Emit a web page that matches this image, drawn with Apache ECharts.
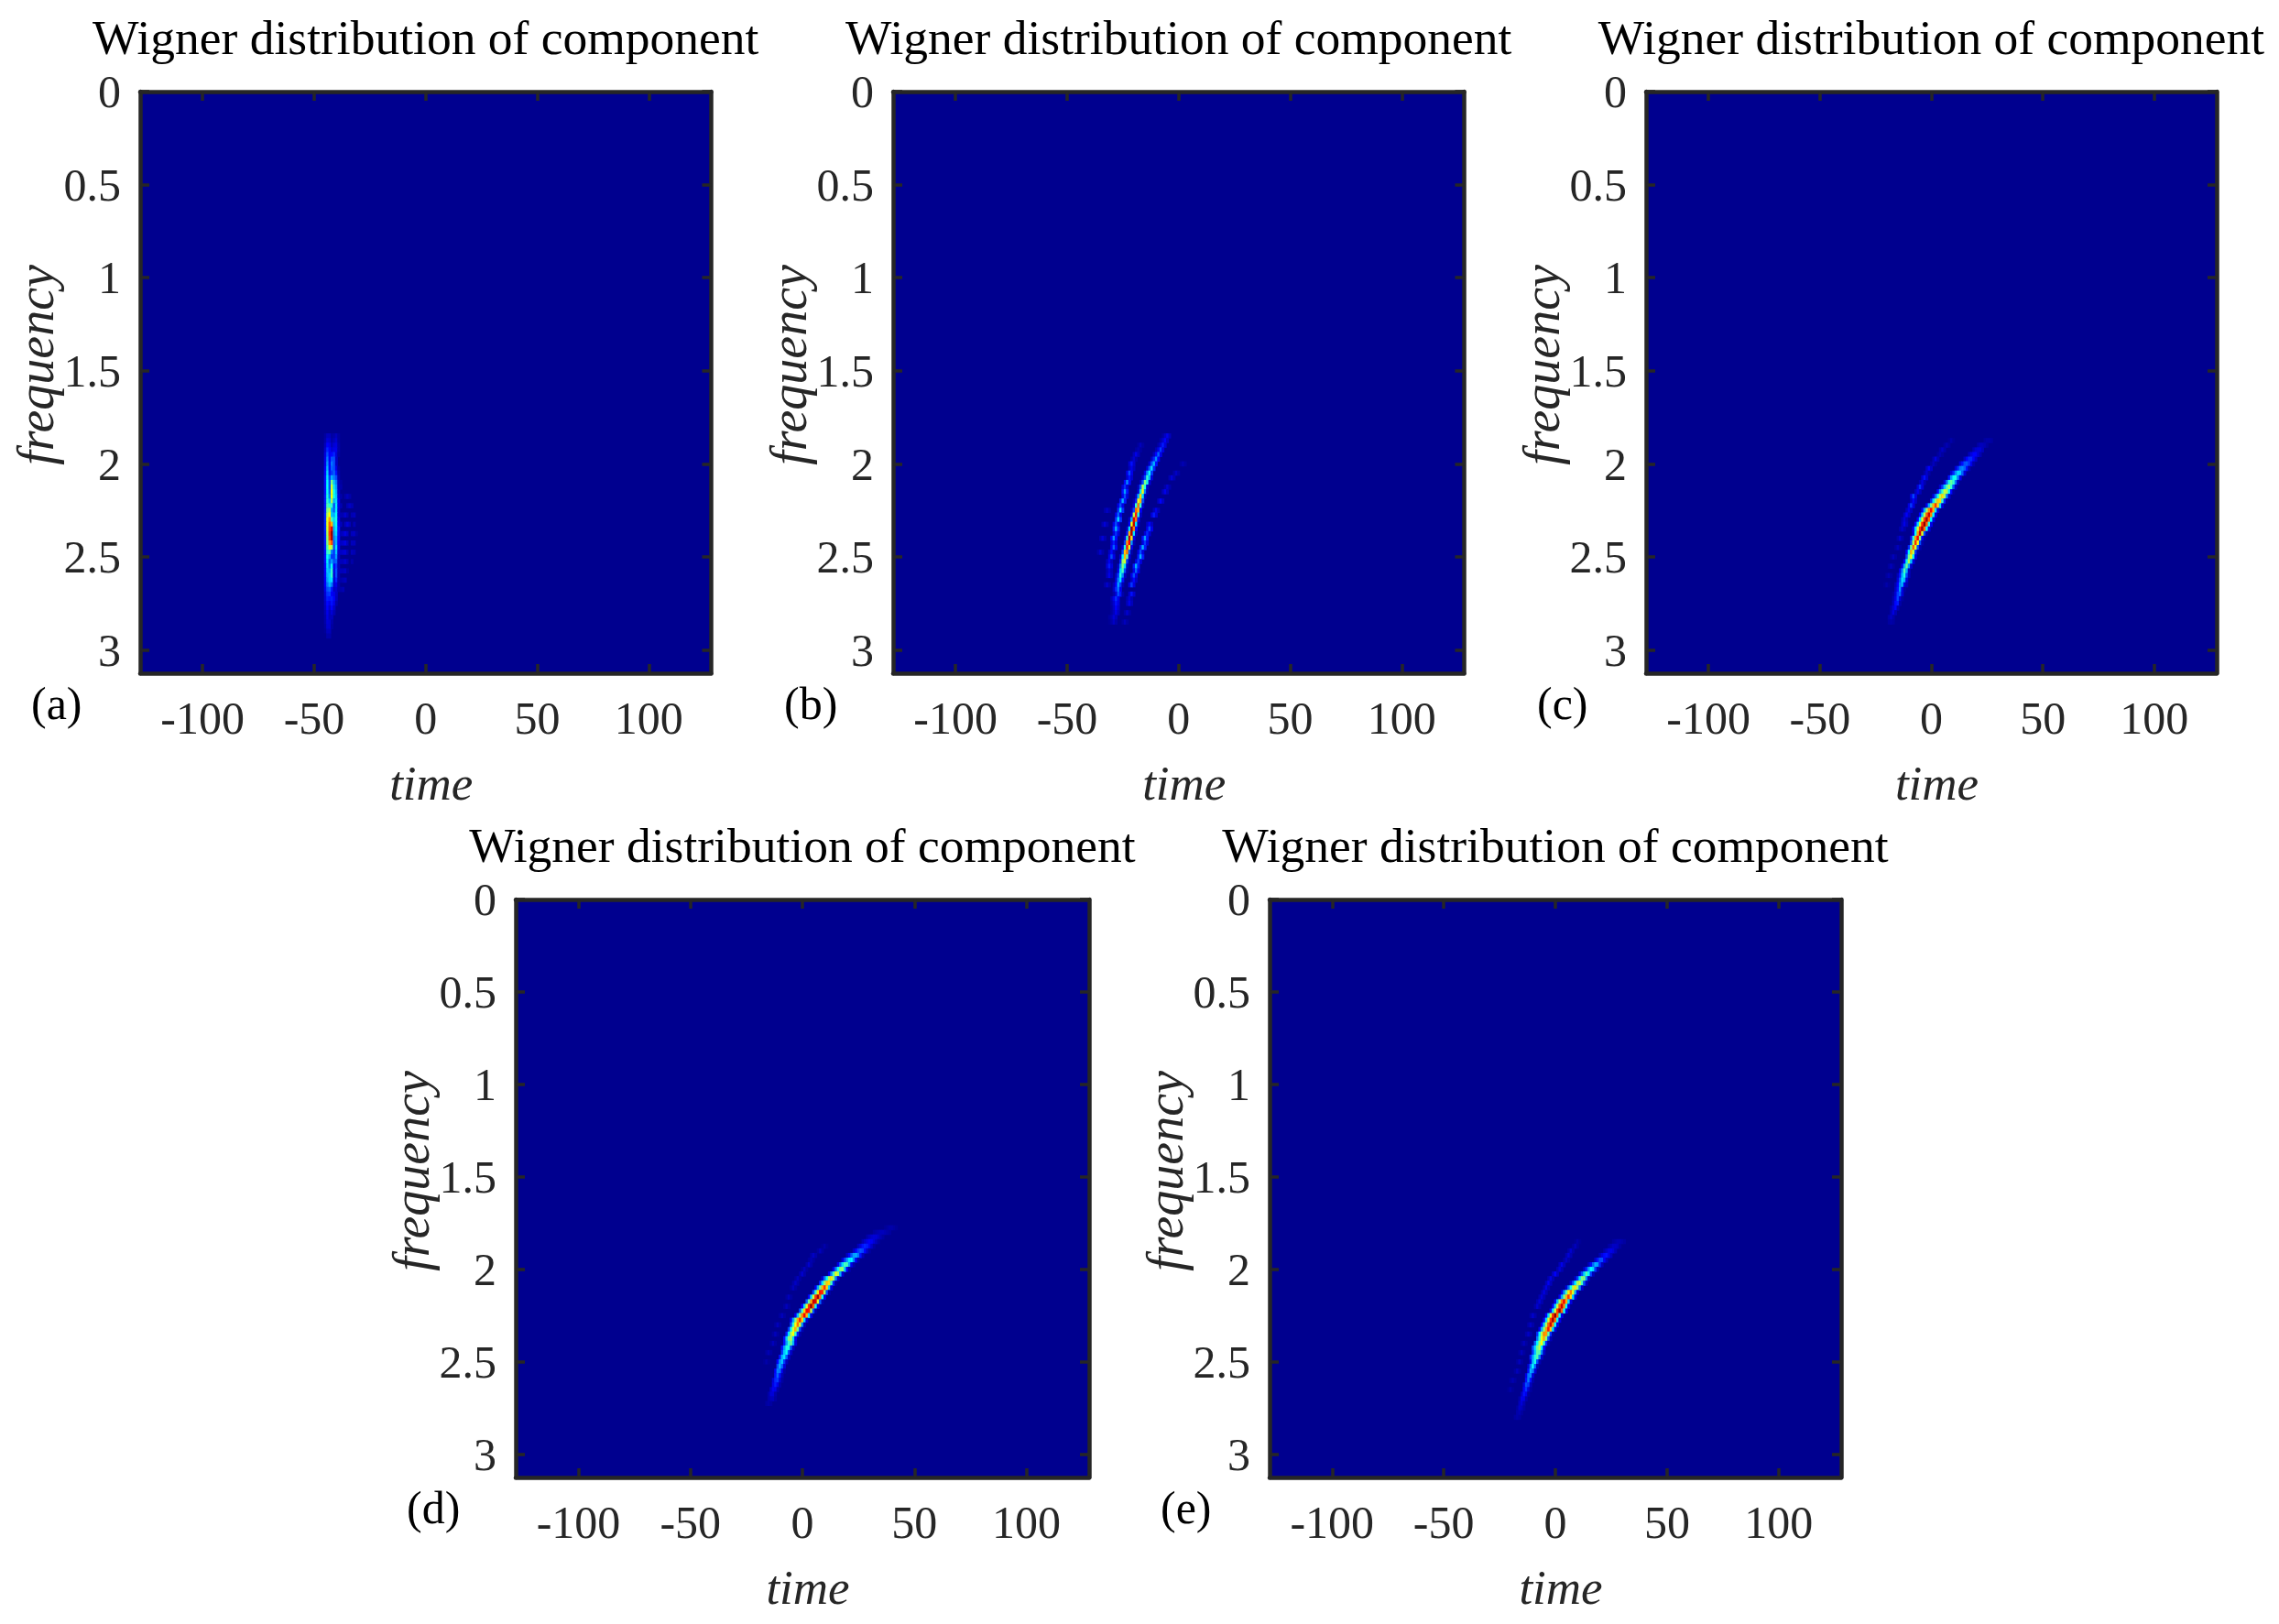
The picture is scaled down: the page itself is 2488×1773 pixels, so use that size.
<!DOCTYPE html>
<html>
<head>
<meta charset="utf-8">
<style>html,body{margin:0;padding:0;background:#fff}#main{width:2488px;height:1773px}</style>
<script src="https://cdn.jsdelivr.net/npm/echarts@6/dist/echarts.min.js"></script>
</head>
<body>
<div id="main"></div>
<script>
var timeTicks = [-100, -50, 0, 50, 100];
var freqTicks = [0, 0.5, 1, 1.5, 2, 2.5, 3];
var freqStep = 0.025;
var jet = ['#00008f', '#0000ff', '#007fff', '#00ffff', '#7fff7f', '#ffff00', '#ff7f00', '#ff0000', '#7f0000'];

// every row: frequency, first time cell, then the cell values
var aMain = [
[1.85,-46,0,.02,.05,.05,.02,.03,.05,.02],[1.875,-46,0,.03,.08,.07,.03,.05,.07,.02],[1.9,-46,0,.05,.12,.1,.05,.08,.09,.03],
[1.925,-46,0,.07,.16,.12,.08,.1,.1,.03],[1.95,-46,0,.09,.2,.12,.13,.16,.08,.02],[1.975,-46,0,.1,.24,.12,.2,.2,.06],
[2,-46,0,.1,.27,.13,.24,.2,.06],[2.025,-46,0,.12,.3,.13,.22,.2,.1,.02],[2.05,-46,0,.13,.33,.14,.18,.22,.14,.03],
[2.075,-46,0,.14,.35,.18,.3,.25,.2,.04],[2.1,-46,0,.14,.37,.2,.5,.32,.25,.05,.02],[2.125,-46,0,.14,.38,.2,.58,.35,.28,.05,.03],
[2.15,-46,0,.14,.38,.22,.62,.38,.3,.06],[2.175,-46,0,.15,.4,.25,.62,.38,.32,.08,.03],[2.2,-46,0,.15,.42,.32,.55,.3,.34,.1],
[2.225,-46,0,.15,.45,.42,.42,.2,.36,.1,.04],[2.25,-46,0,.15,.5,.55,.3,.22,.36,.08],[2.275,-46,0,.16,.55,.62,.32,.3,.38,.08,.04],
[2.3,-46,0,.16,.6,.72,.45,.34,.4,.1],[2.325,-46,0,.16,.6,.78,.7,.32,.38,.12,.05],[2.35,-46,0,.16,.58,.8,.9,.3,.36,.14],
[2.375,-46,0,.15,.55,.82,.97,.28,.34,.14,.05],[2.4,-46,0,.15,.52,.8,.95,.25,.3,.13],[2.425,-46,0,.15,.5,.72,.8,.22,.3,.12,.06],
[2.45,-46,0,.15,.45,.6,.55,.2,.35,.1],[2.475,-46,0,.14,.42,.45,.25,.18,.32,.08,.06],[2.5,-46,0,.14,.38,.3,.18,.18,.28,.06],
[2.525,-46,0,.14,.36,.22,.28,.2,.22,.05,.05],[2.55,-46,0,.13,.34,.25,.38,.12,.18,.05],[2.575,-46,0,.13,.32,.3,.42,.1,.2,.05,.05],
[2.6,-46,0,.13,.3,.33,.42,.08,.2,.04],[2.625,-46,0,.12,.28,.33,.35,.08,.16,.04,.03],[2.65,-46,0,.12,.24,.3,.25,.08,.1,.03],
[2.675,-46,0,.1,.2,.22,.15,.06,.07,.03],[2.7,-46,0,.08,.17,.18,.12,.1,.06],[2.725,-46,0,.07,.15,.14,.15,.12,.05],
[2.75,-46,0,.06,.13,.1,.14,.1,.03],[2.775,-46,0,.05,.12,.07,.12,.06],[2.8,-46,0,.04,.1,.05,.08,.04],
[2.825,-46,0,.03,.09,.05,.05],[2.85,-46,0,.03,.08,.07,.03],[2.875,-46,0,.02,.07,.07,.02],[2.9,-46,0,.01,.05,.05],[2.925,-46,0,0,.03,.03]
];
var aSpots = [
[2.175,-36,.03,.05,.03],[2.225,-35,.04,.06,.04],[2.275,-37,.04,.07,.04,0,.04,.05],[2.325,-36,.05,.08,.05,0,.04],
[2.375,-37,.06,.09,.06,0,.05,.06,.02],[2.425,-37,.07,.09,.05,0,.05,.05],[2.475,-37,.07,.08,.04,0,.05,.04],
[2.525,-37,.05,.07,.04,0,.03],[2.575,-37,.05,.06,.02],[2.625,-37,.04,.05],[2.675,-38,.03,.04]
];

var bMain = [
[1.85,-7,.02,.06,.1,.05],[1.875,-8,.03,.07,.12,.06],[1.9,-9,.03,.08,.15,.08],[1.925,-10,.04,.1,.18,.09],[1.95,-11,.05,.13,.22,.1],
[1.975,-12,.06,.16,.26,.12],[2,-13,.07,.2,.3,.14],[2.025,-14,.08,.22,.34,.16],[2.05,-15,.1,.26,.38,.18],[2.075,-16,.06,.2,.42,.3,.08],
[2.1,-17,.05,.2,.5,.4,.08],[2.125,-18,.05,.22,.55,.4,.07],[2.15,-18,.08,.35,.62,.25,.04],[2.175,-19,.06,.3,.67,.35,.05],
[2.2,-20,.04,.15,.6,.7,.2],[2.225,-20,.08,.42,.76,.42,.07],[2.25,-21,.05,.2,.78,.68,.12],[2.275,-21,.1,.55,.85,.4,.06],
[2.3,-22,.06,.3,.9,.75,.14],[2.325,-22,.12,.62,.94,.35,.05],[2.35,-23,.06,.35,.97,.75,.13],[2.375,-23,.15,.7,.95,.35,.05],
[2.4,-24,.08,.42,.93,.65,.1],[2.425,-24,.18,.72,.88,.28,.04],[2.45,-25,.08,.4,.85,.6,.1],[2.475,-25,.2,.68,.75,.22,.03],
[2.5,-26,.08,.36,.7,.48,.08],[2.525,-26,.16,.52,.58,.18,.03],[2.55,-27,.06,.26,.5,.34,.06],[2.575,-27,.1,.34,.44,.2,.03],
[2.6,-28,.05,.18,.4,.26,.05],[2.625,-28,.08,.24,.34,.14],[2.65,-29,.04,.12,.28,.18,.04],[2.675,-29,.06,.16,.24,.1],
[2.7,-29,.03,.08,.2,.14,.03],[2.725,-30,.04,.1,.17,.1],[2.75,-30,.03,.07,.14,.09],[2.775,-30,.02,.06,.12,.07],
[2.8,-30,.02,.05,.1,.05],[2.825,-31,.02,.04,.08,.05],[2.85,-31,.01,.03,.06,.03]
];
var bLeft = [
[1.9,-18,.02,.05,.02],[1.925,-19,.02,.04,.02],[1.95,-20,.05,.1,.05],[1.975,-21,.03,.07,.03],[2,-22,.07,.14,.07],[2.025,-22,.05,.1,.05],
[2.05,-23,.1,.2,.1],[2.075,-23,.07,.14,.07],[2.1,-24,.13,.26,.13],[2.125,-25,.08,.17,.08],[2.15,-25,.14,.28,.14],[2.175,-25,.1,.2,.08],
[2.2,-26,.15,.3,.15],[2.225,-27,.1,.2,.1],[2.25,-27,.17,.34,.17],[2.275,-28,.1,.22,.1],[2.3,-28,.17,.34,.17],[2.325,-29,.1,.2,.1],
[2.35,-29,.15,.3,.15],[2.375,-29,.08,.17,.08],[2.4,-30,.13,.27,.13],[2.425,-30,.08,.15,.08],[2.45,-30,.11,.22,.11],[2.475,-31,.06,.13,.06],
[2.5,-31,.1,.2,.1],[2.525,-32,.05,.11,.05],[2.55,-32,.08,.15,.08],[2.575,-32,.04,.08,.04],[2.6,-32,.05,.1,.05],[2.65,-33,.03,.07,.03],
[2.25,-33,.03,.06,.03],[2.325,-34,.04,.08,.04],[2.4,-35,.04,.08,.04],[2.475,-36,.03,.07,.03]
];
var bRight = [
[2,1,.02,.04,.02],[2.05,-2,.03,.06,.03],[2.075,-4,.04,.08,.04],[2.125,-6,.03,.07,.03],[2.15,-7,.05,.1,.05],[2.2,-9,.06,.12,.06],
[2.25,-11,.05,.1,.05],[2.275,-12,.08,.15,.08],[2.325,-14,.06,.12,.06],[2.35,-14,.1,.2,.1],[2.375,-15,.08,.16,.08],[2.4,-16,.14,.28,.14],
[2.425,-16,.09,.18,.09],[2.45,-17,.15,.3,.15],[2.475,-18,.09,.2,.09],[2.5,-18,.15,.3,.15],[2.525,-19,.09,.18,.09],[2.55,-20,.15,.3,.15],
[2.575,-20,.1,.22,.1],[2.6,-21,.1,.2,.1],[2.625,-21,.06,.13,.06],[2.65,-22,.09,.18,.09],[2.7,-22,.07,.14,.07],[2.725,-23,.04,.08,.04],
[2.75,-23,.05,.1,.05],[2.8,-24,.03,.07,.03],[2.85,-25,.02,.05,.02]
];

var cMain = [
[1.875,24,.02,.03,.03,.02],[1.9,21,.03,.05,.05,.04,.02],[1.925,19,.04,.07,.08,.08,.05],[1.95,17,.05,.09,.12,.12,.08,.04],
[1.975,15,.06,.12,.16,.16,.12,.06],[2,13,.08,.14,.2,.21,.17,.1,.03],[2.025,11,.08,.16,.24,.26,.22,.14,.04],[2.05,9,.08,.16,.26,.34,.32,.22,.08],
[2.075,8,.14,.28,.38,.4,.26,.1],[2.1,6,.08,.22,.4,.47,.42,.24,.06],[2.125,4,.07,.18,.32,.45,.53,.42,.21,.05],[2.15,3,.13,.29,.43,.57,.55,.36,.13,.02],
[2.175,1,.09,.23,.4,.56,.66,.53,.26,.07],[2.2,0,.16,.35,.52,.68,.66,.43,.16,.02],[2.225,-2,.11,.29,.49,.7,.82,.66,.33,.08],[2.25,-4,.11,.3,.52,.74,.87,.7,.35,.09],
[2.275,-5,.12,.32,.55,.78,.92,.74,.37,.09],[2.3,-6,.12,.34,.58,.82,.96,.77,.38,.1],[2.325,-7,.13,.34,.59,.83,.98,.78,.39,.1],[2.35,-8,.12,.34,.58,.82,.96,.77,.38,.1],
[2.375,-8,.1,.38,.72,.92,.6,.2,.03],[2.4,-9,.14,.42,.72,.88,.5,.12,.02],[2.425,-9,.2,.55,.83,.62,.2,.03],[2.45,-10,.16,.48,.78,.6,.2,.03],
[2.475,-11,.12,.38,.7,.56,.18,.03],[2.5,-11,.2,.48,.62,.36,.08],[2.525,-12,.12,.36,.55,.32,.08],[2.55,-13,.1,.3,.48,.28,.06],
[2.575,-14,.1,.25,.45,.3,.06],[2.6,-15,.05,.14,.3,.4,.2,.05],[2.625,-15,.08,.2,.34,.3,.08],[2.65,-16,.04,.12,.25,.3,.1,.04],
[2.675,-16,.06,.14,.27,.1,.02],[2.7,-17,.02,.08,.18,.22,.08],[2.725,-17,.04,.1,.19,.08,.02],[2.75,-17,.05,.13,.15,.03],
[2.775,-18,.03,.08,.12,.04],[2.8,-18,.04,.09,.04],[2.825,-19,.03,.06,.03],[2.85,-19,.02,.03,.02]
];
var cLeft = [
[1.875,8,.01,.03,.01],[1.9,6,.02,.04,.02],[1.925,4,.03,.06,.03],[1.95,3,.02,.04,.02],[1.975,1,.04,.09,.04],[2,0,.02,.05,.02],
[2.025,-2,.06,.12,.06],[2.05,-3,.03,.07,.03],[2.075,-4,.07,.14,.07],[2.1,-5,.04,.09,.04],[2.125,-6,.08,.17,.08],[2.15,-7,.05,.1,.05],
[2.175,-9,.09,.19,.09],[2.2,-9,.06,.12,.06],[2.225,-10,.09,.18,.09],[2.25,-11,.05,.1,.05],[2.275,-12,.06,.12,.06],[2.3,-13,.04,.08,.04],
[2.325,-13,.05,.1,.05],[2.35,-14,.03,.06,.03],[2.4,-15,.03,.07,.03],[2.45,-16,.02,.05,.02],[2.5,-18,.02,.05,.02],[2.55,-19,.02,.05,.02],
[2.6,-20,.02,.04,.02],[2.65,-21,.01,.03,.01]
];

var dMain = [
[1.775,37,.01,.02,.03,.03,.02,.01],[1.8,32,.02,.03,.04,.05,.05,.04,.03,.02],[1.825,29,.03,.05,.07,.08,.08,.06,.04,.02],
[1.85,27,.04,.07,.1,.12,.11,.08,.05,.02],[1.875,25,.05,.09,.14,.16,.15,.11,.06,.02],[1.9,23,.06,.12,.18,.21,.19,.13,.06,.02],
[1.925,20,.06,.13,.21,.28,.3,.24,.14,.05],[1.95,18,.08,.18,.28,.36,.37,.26,.12,.03],[1.975,16,.1,.22,.34,.44,.44,.28,.1,.03],
[2,14,.1,.24,.4,.5,.52,.33,.12,.03],[2.025,12,.1,.26,.44,.6,.54,.3,.08],[2.05,9,.08,.23,.39,.55,.65,.52,.26,.07],
[2.075,8,.16,.35,.52,.68,.66,.43,.16,.02],[2.1,6,.11,.29,.49,.7,.82,.66,.33,.08],[2.125,5,.2,.43,.65,.86,.83,.54,.2,.03],[2.15,3,.12,.34,.58,.82,.96,.77,.38,.1],
[2.175,2,.22,.47,.71,.93,.9,.59,.22,.03],[2.2,0,.13,.34,.59,.83,.98,.78,.39,.1],[2.225,-1,.2,.45,.67,.88,.86,.56,.2,.03],[2.25,-3,.11,.31,.53,.75,.88,.7,.35,.09],
[2.275,-5,.11,.29,.5,.71,.84,.67,.34,.08],[2.3,-5,.2,.42,.62,.76,.58,.26,.05],[2.325,-6,.18,.38,.58,.7,.5,.2,.04],[2.35,-7,.15,.35,.54,.62,.42,.15,.03],
[2.375,-8,.14,.32,.5,.55,.33,.1],[2.4,-8,.14,.28,.42,.48,.3,.08],[2.425,-9,.14,.28,.4,.4,.2,.05],[2.45,-9,.18,.32,.38,.2,.06],
[2.475,-10,.14,.3,.35,.22,.06],[2.5,-11,.12,.26,.32,.18,.05],[2.525,-11,.2,.3,.22,.08],[2.55,-12,.12,.25,.24,.1,.02],
[2.575,-12,.14,.22,.14,.04],[2.6,-13,.08,.16,.18,.08,.02],[2.625,-13,.1,.15,.1,.03],[2.65,-14,.06,.11,.1,.03],
[2.675,-15,.03,.08,.08,.03],[2.7,-15,.03,.05,.05,.02],[2.725,-16,.02,.03,.02]
];
var dLeft = [
[1.875,9,.01,.03,.01],[1.9,7,.02,.05,.02],[1.925,4,.03,.06,.03],[1.95,3,.02,.04,.02],[1.975,2,.03,.07,.03],[2,0,.02,.05,.02],
[2.025,-1,.03,.07,.03],[2.05,-3,.02,.05,.02],[2.075,-4,.03,.06,.03],[2.1,-5,.02,.05,.02],[2.15,-7,.02,.05,.02],[2.2,-8,.02,.05,.02],
[2.25,-10,.02,.05,.02],[2.3,-12,.02,.05,.02],[2.35,-13,.02,.05,.02],[2.4,-14,.02,.05,.02],[2.45,-16,.02,.04,.02],[2.5,-17,.01,.03,.01]
];

var eMain = [
[1.85,26,.02,.03,.04,.04,.03,.02],[1.875,24,.02,.04,.06,.06,.05,.02],[1.9,22,.03,.06,.09,.1,.08,.04],[1.925,20,.04,.09,.13,.14,.1,.05],
[1.95,18,.07,.14,.2,.2,.12,.05],[1.975,15,.05,.13,.22,.3,.28,.16,.05],[2,13,.06,.16,.28,.37,.34,.18,.05],[2.025,11,.08,.2,.33,.45,.38,.18,.05],
[2.05,9,.06,.18,.35,.5,.5,.26,.06],[2.075,7,.08,.2,.36,.54,.58,.44,.2,.05],[2.1,5,.08,.23,.39,.55,.65,.52,.26,.07],[2.125,3,.1,.26,.45,.64,.75,.6,.3,.08],
[2.15,2,.11,.29,.49,.7,.82,.66,.33,.08],[2.175,0,.11,.31,.53,.75,.88,.7,.35,.09],[2.2,-1,.12,.33,.56,.79,.93,.74,.37,.09],[2.225,-2,.13,.34,.58,.82,.97,.78,.39,.1],
[2.25,-4,.13,.34,.59,.83,.98,.78,.39,.1],[2.275,-5,.12,.34,.58,.82,.96,.77,.38,.1],[2.3,-6,.12,.32,.55,.78,.92,.74,.37,.09],[2.325,-7,.11,.3,.51,.72,.85,.68,.34,.08],
[2.35,-8,.17,.37,.56,.74,.72,.47,.17,.02],[2.375,-8,.24,.42,.6,.7,.5,.2,.04],[2.4,-9,.22,.37,.53,.62,.42,.16,.03],[2.425,-10,.2,.34,.48,.56,.36,.12],
[2.45,-10,.17,.32,.46,.46,.26,.06],[2.475,-11,.16,.28,.4,.45,.26,.06],[2.5,-11,.1,.3,.4,.2,.04],[2.525,-12,.08,.24,.38,.22,.04],
[2.55,-12,.14,.3,.26,.08],[2.575,-13,.1,.24,.26,.08],[2.6,-13,.14,.25,.14,.03],[2.625,-14,.08,.2,.18,.05],[2.65,-14,.12,.17,.08,.02],
[2.675,-15,.06,.14,.1,.02],[2.7,-16,.03,.1,.1,.03],[2.725,-16,.05,.08,.04],[2.75,-17,.02,.06,.05,.02],[2.775,-17,.03,.04,.02],[2.8,-18,.02,.03,.02]
];
var eLeft = [
[1.85,9,.01,.03,.01],[1.875,8,.02,.05,.02],[1.9,6,.03,.07,.03],[1.925,5,.04,.08,.04],[1.95,4,.03,.06,.03],[1.975,2,.05,.1,.05],
[2,1,.04,.08,.04],[2.025,-1,.06,.12,.06],[2.05,-3,.04,.09,.04],[2.075,-4,.05,.11,.05],[2.1,-5,.04,.09,.04],[2.125,-6,.04,.09,.04],
[2.15,-7,.04,.08,.04],[2.175,-8,.04,.08,.04],[2.2,-9,.03,.07,.03],[2.25,-11,.03,.07,.03],[2.3,-12,.03,.06,.03],[2.35,-13,.03,.06,.03],
[2.4,-15,.02,.05,.02],[2.45,-16,.02,.05,.02],[2.5,-17,.02,.05,.02],[2.55,-18,.02,.05,.02],[2.6,-20,.02,.04,.02],[2.65,-21,.01,.03,.01]
];

var labels = ['(a)', '(b)', '(c)', '(d)', '(e)'];
var panelRows = [aMain.concat(aSpots), bMain.concat(bLeft, bRight), cMain.concat(cLeft), dMain.concat(dLeft), eMain.concat(eLeft)];
var boxes = [
    { left: 153, top: 100, width: 623.5, height: 635 },
    { left: 975, top: 100, width: 623.5, height: 635 },
    { left: 1797, top: 100, width: 623, height: 635 },
    { left: 563, top: 982, width: 626, height: 631 },
    { left: 1386, top: 982, width: 624, height: 631 }
];

var timeCats = [];
for (var t = -128; t <= 128; t++) timeCats.push(String(t));
var freqCats = [];
for (var i = 0; i * freqStep <= 3.15; i++) freqCats.push(String(Number((i * freqStep).toFixed(3))));

function toCells(rows) {
    var out = [];
    rows.forEach(function (r) {
        for (var k = 2; k < r.length; k++) {
            out.push([r[1] + k - 2 + 128, Math.round(r[0] / freqStep), r[k]]);
        }
    });
    return out;
}

var serif = 'Liberation Serif';
var dark = '#262626';
function onTime(i, v) { return timeTicks.indexOf(Number(v)) >= 0; }
function onFreq(i, v) { return freqTicks.indexOf(Number(v)) >= 0; }

function axisBase(cats, tickFn, position, inverse) {
    return {
        type: 'category', data: cats, position: position, inverse: inverse, boundaryGap: false, z: 10,
        axisLine: { show: true, onZero: false, lineStyle: { color: dark, width: 4.5 } },
        axisTick: { show: true, inside: true, length: 10, interval: tickFn, lineStyle: { color: dark, width: 3.5 } },
        axisLabel: { show: false },
        splitLine: { show: false }
    };
}

var option = {
    animation: false,
    backgroundColor: '#fff',
    title: [],
    grid: [],
    xAxis: [],
    yAxis: [],
    visualMap: { show: false, type: 'continuous', min: 0, max: 1, dimension: 2, inRange: { color: jet } },
    series: []
};

boxes.forEach(function (b, n) {
    option.grid.push({ left: b.left, top: b.top, width: b.width, height: b.height, show: true, backgroundColor: jet[0], borderWidth: 0 });

    var xMain = axisBase(timeCats, onTime, 'bottom', false);
    xMain.gridIndex = n;
    xMain.axisLabel = { show: true, interval: onTime, margin: 28, fontFamily: serif, fontSize: 50, color: dark };
    xMain.name = 'time';
    xMain.nameLocation = 'middle';
    xMain.nameGap = 98;
    xMain.nameMoveOverlap = false;
    xMain.nameTextStyle = { fontFamily: serif, fontStyle: 'italic', fontSize: 53, color: dark, padding: [0, 0, 0, 12] };
    var xTop = axisBase(timeCats, onTime, 'top', false);
    xTop.gridIndex = n;
    option.xAxis.push(xMain, xTop);

    var yMain = axisBase(freqCats, onFreq, 'left', true);
    yMain.gridIndex = n;
    yMain.axisLabel = { show: true, interval: onFreq, margin: 21, verticalAlign: 'top', padding: [-21, 0, 0, 0], fontFamily: serif, fontSize: 50, color: dark };
    yMain.name = 'frequency';
    yMain.nameLocation = 'middle';
    yMain.nameGap = 82;
    yMain.nameMoveOverlap = false;
    yMain.nameTextStyle = { fontFamily: serif, fontStyle: 'italic', fontSize: 56, color: dark, padding: [0, 0, 0, 38] };
    var yRight = axisBase(freqCats, onFreq, 'right', true);
    yRight.gridIndex = n;
    option.yAxis.push(yMain, yRight);

    option.title.push({
        text: 'Wigner distribution of component', left: b.left + b.width / 2, top: b.top - 82, textAlign: 'center', padding: 0,
        textStyle: { fontFamily: serif, fontWeight: 'normal', fontSize: 53.5, color: '#000' }
    });
    option.title.push({
        text: labels[n], left: b.left - 119, top: b.top + b.height + 12, padding: 0,
        textStyle: { fontFamily: serif, fontWeight: 'normal', fontSize: 50, color: '#000' }
    });

    option.series.push({
        type: 'heatmap', name: labels[n], xAxisIndex: n * 2, yAxisIndex: n * 2, silent: true, progressive: 0,
        itemStyle: { borderWidth: 0 },
        data: toCells(panelRows[n])
    });
});

var myChart = echarts.init(document.getElementById('main'), null, { renderer: 'canvas' });
myChart.setOption(option);
</script>
</body>
</html>
